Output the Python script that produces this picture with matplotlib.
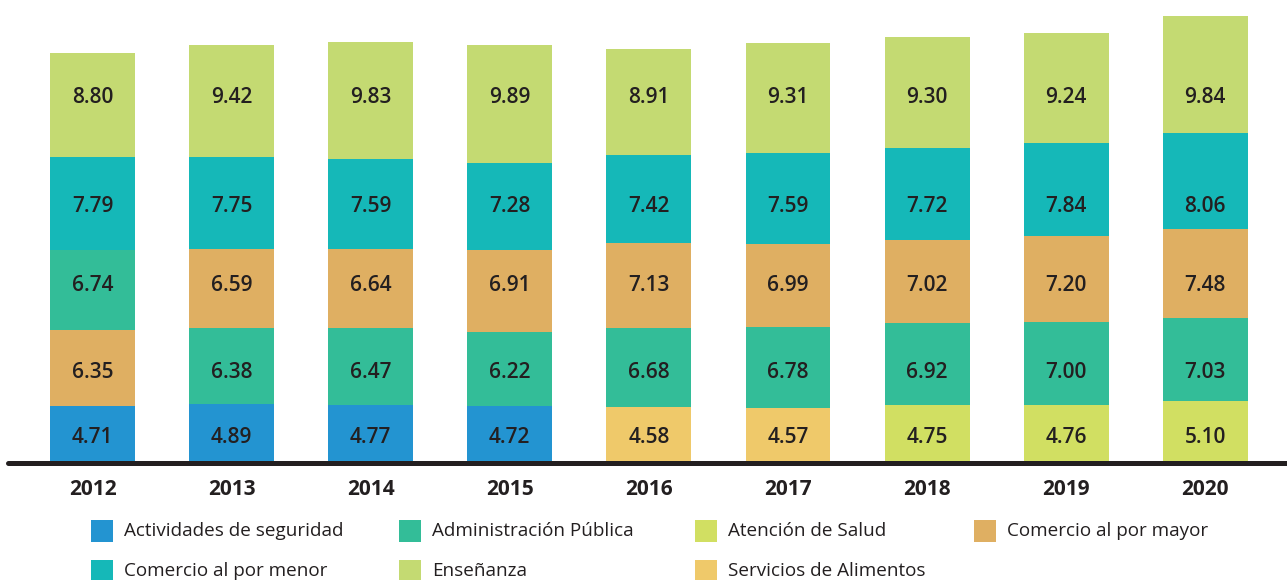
import numpy as np
import matplotlib
matplotlib.use("Agg")
import matplotlib.pyplot as plt
from matplotlib.patches import Rectangle

plt.rcParams['font.family'] = ['Open Sans', 'DejaVu Sans']

years = ['2012', '2013', '2014', '2015', '2016', '2017', '2018', '2019', '2020']
nan = np.nan

# valores por categoria (nan = no aparece ese año)
seguridad = [4.71, 4.89, 4.77, 4.72, nan, nan, nan, nan, nan]
admin_publica = [6.74, 6.38, 6.47, 6.22, 6.68, 6.78, 6.92, 7.00, 7.03]
salud = [nan, nan, nan, nan, nan, nan, 4.75, 4.76, 5.10]
com_mayor = [6.35, 6.59, 6.64, 6.91, 7.13, 6.99, 7.02, 7.20, 7.48]
com_menor = [7.79, 7.75, 7.59, 7.28, 7.42, 7.59, 7.72, 7.84, 8.06]
ensenanza = [8.80, 9.42, 9.83, 9.89, 8.91, 9.31, 9.30, 9.24, 9.84]
alimentos = [nan, nan, nan, nan, 4.58, 4.57, nan, nan, nan]

categories = ['Actividades de seguridad', 'Administración Pública', 'Atención de Salud',
              'Comercio al por mayor', 'Comercio al por menor', 'Enseñanza',
              'Servicios de Alimentos']
series = [seguridad, admin_publica, salud, com_mayor, com_menor, ensenanza, alimentos]
colors = ['#2394d1', '#33bd98', '#d1df62', '#dfaf62', '#15b8b8', '#c4da72', '#efc96a']

# alturas fijas de las etiquetas segun posicion en la pila
label_levels = [2.10, 7.56, 14.87, 21.51, 30.59]

TXT = '#231f20'

fig = plt.figure(figsize=(12.87, 5.8), dpi=100)
ax = fig.add_axes([0, 118 / 580, 1, 462 / 580])

data = np.array(series, dtype=float)
x = np.arange(len(years))
width = 0.611

for j in range(len(years)):
    col = data[:, j]
    idx = [i for i in np.argsort(col) if not np.isnan(col[i])]
    bottom = 0.0
    for rank, i in enumerate(idx):
        ax.bar(x[j], col[i], width, bottom=bottom, color=colors[i], linewidth=0, zorder=2)
        ax.text(x[j], label_levels[rank], f'{col[i]:.2f}', ha='center', va='center',
                fontsize=15, color=TXT, fontweight='semibold', zorder=3)
        bottom += col[i]

ax.set_xlim(-92.5 / 139.1, (1287 - 92.5) / 139.1)
ax.set_ylim(0, 462 / 11.9)
ax.axhline(-0.12, xmin=8 / 1287, xmax=1, color=TXT, lw=3.6, clip_on=False, zorder=4,
           solid_capstyle='round')
for s in ax.spines.values():
    s.set_visible(False)
ax.set_yticks([])
ax.set_xticks(x)
ax.set_xticklabels(years, fontsize=15, fontweight='bold', color=TXT)
ax.tick_params(axis='x', length=0, pad=12)

# leyenda manual (4 columnas, segunda fila cortada por el borde)
col_x = [91, 399, 695, 974]
row_y = [531, 571]
for k, name in enumerate(categories):
    r, c = divmod(k, 4)
    px, py = col_x[c], row_y[r]
    fig.add_artist(Rectangle((px / 1287, 1 - (py + 11) / 580), 22 / 1287, 22 / 580,
                             transform=fig.transFigure, color=colors[k], lw=0))
    fig.text((px + 33) / 1287, 1 - py / 580, name, ha='left', va='center',
             fontsize=13.6, color=TXT)

fig.savefig('out.png', dpi=100)
